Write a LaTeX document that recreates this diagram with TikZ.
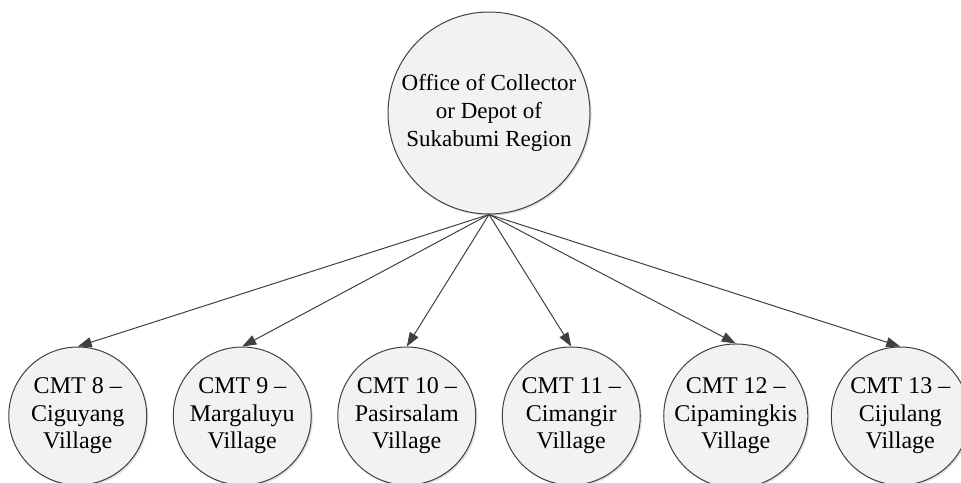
\documentclass[tikz,border=0pt]{standalone}
\usepackage{fontspec}
\setmainfont{Liberation Serif}
\usepackage{tikz}
\usetikzlibrary{positioning,arrows.meta,shadows}

\begin{document}
\begin{tikzpicture}[
  node distance=82.25pt,
  place/.style={circle,draw=black!75,line width=0.5pt,fill=black!5,inner sep=0pt,align=center,
    drop shadow={shadow xshift=0.8pt,shadow yshift=-0.8pt,opacity=0.12,fill=black}},
  depot/.style={place,minimum size=101pt,font=\fontsize{11.5}{14}\selectfont},
  cmt/.style={place,minimum size=69pt,font=\fontsize{12}{13.75}\selectfont},
  ar/.style={-{Triangle[length=7pt,width=5pt]},draw=black!75,line width=0.5pt}]
\useasboundingbox (0,0) rectangle (480.5pt,-241pt);
% ---- collector / depot ----
\node[depot] (dp) at (244.5pt,-56.5pt) {Office of Collector\\or Depot of\\Sukabumi Region};
% ---- CMT villages ----
\node[cmt,on grid,below=151.5pt of dp,xshift=-41.125pt] (c10) {CMT 10 --\\Pasirsalam\\Village};
\node[cmt,on grid,left=of c10] (c9) {CMT 9 --\\Margaluyu\\Village};
\node[cmt,on grid,left=of c9] (c8) {CMT 8 --\\Ciguyang\\Village};
\node[cmt,on grid,right=of c10] (c11) {CMT 11 --\\Cimangir\\Village};
\node[cmt,on grid,right=of c11] (c12) {CMT 12 --\\Cipamingkis\\Village};
\node[cmt,on grid,right=of c12] (c13) {CMT 13 --\\Cijulang\\Village};
\draw[ar] (dp.south)--(c8.north); \draw[ar] (dp.south)--(c9.north);
\draw[ar] (dp.south)--(c10.north); \draw[ar] (dp.south)--(c11.north);
\draw[ar] (dp.south)--(c12.north); \draw[ar] (dp.south)--(c13.north);
\end{tikzpicture}
\end{document}
